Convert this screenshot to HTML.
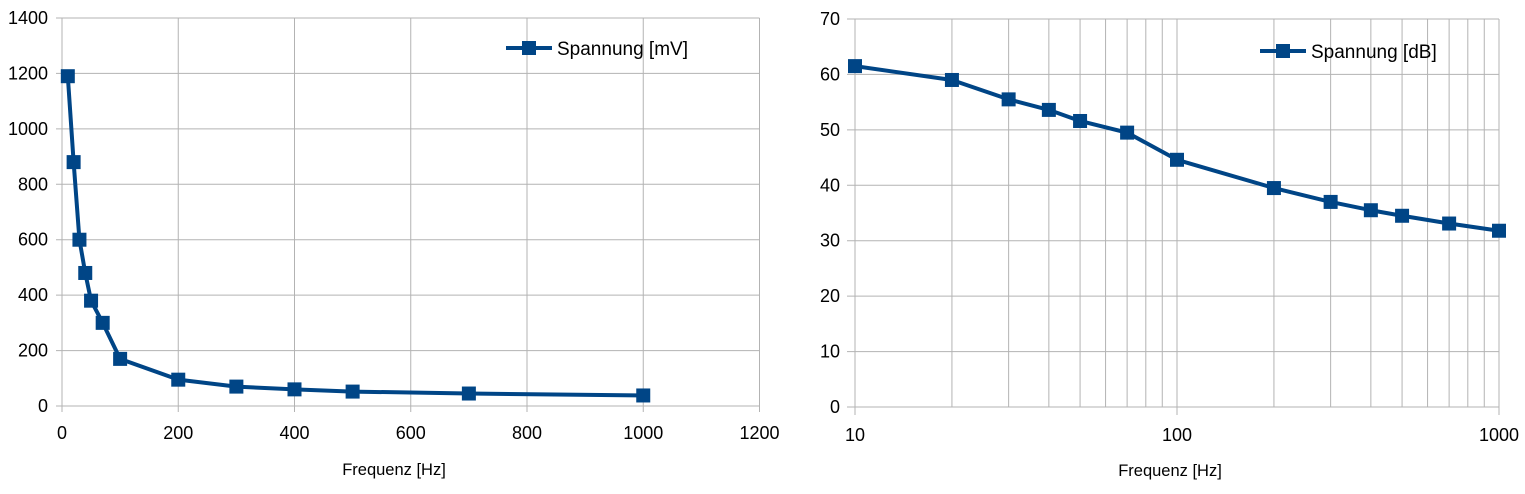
<!DOCTYPE html>
<html><head><meta charset="utf-8"><style>
body{margin:0;background:#fff;font-family:"Liberation Sans",sans-serif;}
svg text{font-family:"Liberation Sans",sans-serif;fill:#000;}
</style></head><body>
<svg id="s" width="1525" height="489" viewBox="0 0 1525 489"></svg>
<script>
const freqs=[10,20,30,40,50,70,100,200,300,400,500,700,1000];
const mv=[1190,880,600,480,380,300,170,95,70,60,52,45,38];
const db=[61.5,59,55.5,53.6,51.6,49.5,44.6,39.5,37,35.5,34.5,33.1,31.8];
const leftXTicks=[0,200,400,600,800,1000,1200];
const leftYTicks=[0,200,400,600,800,1000,1200,1400];
const rightXTicks=[10,100,1000];
const rightYTicks=[0,10,20,30,40,50,60,70];
const NS="http://www.w3.org/2000/svg";
const s=document.getElementById('s');
function mk(t,a,p){const e=document.createElementNS(NS,t);for(const k in a)e.setAttribute(k,a[k]);(p||s).appendChild(e);return e;}
const L={x0:62,x1:759.5,y0:406,y1:18};
const lx=v=>L.x0+(v/1200)*(L.x1-L.x0), ly=v=>L.y0-(v/1400)*(L.y0-L.y1);
const R={x0:855,x1:1499,y0:407,y1:19};
const rx=v=>R.x0+(Math.log10(v)-1)/2*(R.x1-R.x0), ry=v=>R.y0-(v/70)*(R.y0-R.y1);
const gL=mk('g',{});


leftXTicks.forEach(v=>{const l=mk('line',{x1:lx(v),x2:lx(v),y1:L.y1,y2:L.y0+6,stroke:'#b3b3b3'},gL);
const t=mk('text',{x:lx(v),y:439,'text-anchor':'middle','font-size':18},gL);t.textContent=v;});
leftYTicks.forEach(v=>{const l=mk('line',{x1:L.x0-6,x2:L.x1,y1:ly(v),y2:ly(v),stroke:'#b3b3b3'},gL);
const t=mk('text',{x:48,y:ly(v)+6,'text-anchor':'end','font-size':18},gL);t.textContent=v;});
let t=mk('text',{x:394,y:475,'text-anchor':'middle','font-size':16.5},gL);t.textContent='Frequenz [Hz]';


let p=mk('polyline',{points:freqs.map((f,i)=>lx(f)+','+ly(mv[i])).join(' '),fill:'none',stroke:'#004586','stroke-width':4,'stroke-linejoin':'round'},gL);


freqs.forEach((f,i)=>{const r=mk('rect',{x:lx(f)-7,y:ly(mv[i])-7,width:14,height:14,fill:'#004586'},gL);});
mk('line',{x1:506,x2:552,y1:48,y2:48,stroke:'#004586','stroke-width':4},gL);
mk('rect',{x:522,y:41,width:14,height:14,fill:'#004586'},gL);
t=mk('text',{x:557,y:55,'font-size':19},gL);t.textContent='Spannung [mV]';


const gR=mk('g',{});


for(let d=10;d<=1000;d*=10){for(let m=1;m<10;m++){const v=d*m;if(v>1000)break;const l=mk('line',{x1:rx(v),x2:rx(v),y1:R.y1,y2:R.y0+(m==1?8:0),stroke:'#b3b3b3'},gR);}}
rightXTicks.forEach(v=>{const t=mk('text',{x:rx(v),y:441,'text-anchor':'middle','font-size':18},gR);t.textContent=v;});
rightYTicks.forEach(v=>{const l=mk('line',{x1:R.x0-8,x2:R.x1,y1:ry(v),y2:ry(v),stroke:'#b3b3b3'},gR);
const t=mk('text',{x:840,y:ry(v)+6,'text-anchor':'end','font-size':18},gR);t.textContent=v;});
t=mk('text',{x:1170,y:476,'text-anchor':'middle','font-size':16.5},gR);t.textContent='Frequenz [Hz]';


p=mk('polyline',{points:freqs.map((f,i)=>rx(f)+','+ry(db[i])).join(' '),fill:'none',stroke:'#004586','stroke-width':4,'stroke-linejoin':'round'},gR);


freqs.forEach((f,i)=>{const r=mk('rect',{x:rx(f)-7,y:ry(db[i])-7,width:14,height:14,fill:'#004586'},gR);});
mk('line',{x1:1260,x2:1306,y1:51,y2:51,stroke:'#004586','stroke-width':4},gR);
mk('rect',{x:1276,y:44,width:14,height:14,fill:'#004586'},gR);
t=mk('text',{x:1311,y:58,'font-size':19},gR);t.textContent='Spannung [dB]';


</script>
</body></html>
